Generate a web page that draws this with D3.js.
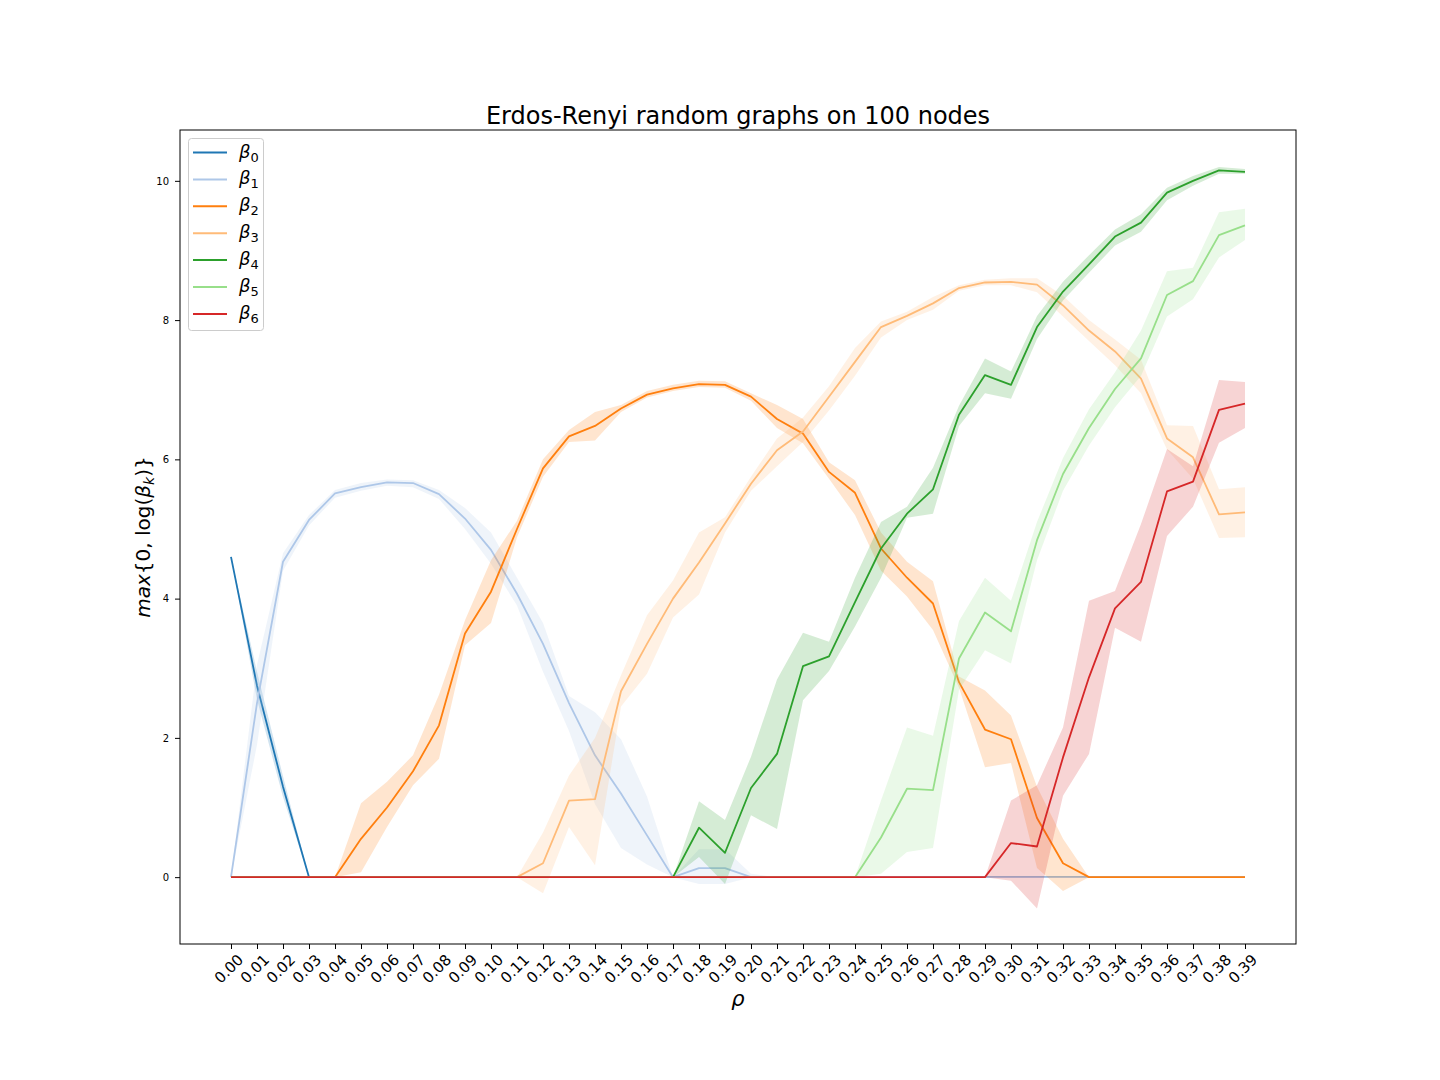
<!DOCTYPE html>
<html>
<head>
<meta charset="utf-8">
<script src="https://cdn.jsdelivr.net/npm/d3@7"></script>
<style>
  body { margin: 0; background: #fff; }
  svg { font-family: "DejaVu Sans", sans-serif; }
</style>
</head>
<body>
<svg id="chart" width="1440" height="1080"></svg>
<script>
let rho = ['0.00','0.01','0.02','0.03','0.04','0.05','0.06','0.07','0.08','0.09',
           '0.10','0.11','0.12','0.13','0.14','0.15','0.16','0.17','0.18','0.19',
           '0.20','0.21','0.22','0.23','0.24','0.25','0.26','0.27','0.28','0.29',
           '0.30','0.31','0.32','0.33','0.34','0.35','0.36','0.37','0.38','0.39']

let yTicks = [0, 2, 4, 6, 8, 10]

let beta0   = [4.6, 2.75, 1.3, 0, 0, 0, 0, 0, 0, 0, 0, 0, 0, 0, 0, 0, 0, 0, 0, 0, 0, 0, 0, 0, 0, 0, 0, 0, 0, 0, 0, 0, 0, 0, 0, 0, 0, 0, 0, 0]
let beta0Lo = [4.6, 2.55, 1.15, 0, 0, 0, 0, 0, 0, 0, 0, 0, 0, 0, 0, 0, 0, 0, 0, 0, 0, 0, 0, 0, 0, 0, 0, 0, 0, 0, 0, 0, 0, 0, 0, 0, 0, 0, 0, 0]
let beta0Hi = [4.6, 2.95, 1.45, 0, 0, 0, 0, 0, 0, 0, 0, 0, 0, 0, 0, 0, 0, 0, 0, 0, 0, 0, 0, 0, 0, 0, 0, 0, 0, 0, 0, 0, 0, 0, 0, 0, 0, 0, 0, 0]

let beta1   = [0, 2.5, 4.53, 5.13, 5.51, 5.6, 5.67, 5.66, 5.5, 5.15, 4.7, 4.07, 3.35, 2.5, 1.75, 1.2, 0.6, 0, 0.13, 0.13, 0, 0, 0, 0, 0, 0, 0, 0, 0, 0, 0, 0, 0, 0, 0, 0, 0, 0, 0, 0]
let beta1Lo = [0, 1.9, 4.4, 5.05, 5.45, 5.55, 5.62, 5.6, 5.43, 5.0, 4.5, 3.9, 2.95, 2.1, 1.05, 0.42, 0.18, 0, -0.1, -0.1, 0, 0, 0, 0, 0, 0, 0, 0, 0, 0, 0, 0, 0, 0, 0, 0, 0, 0, 0, 0]
let beta1Hi = [0, 3.05, 4.65, 5.2, 5.56, 5.66, 5.71, 5.7, 5.56, 5.3, 4.95, 4.3, 3.65, 2.6, 2.37, 1.98, 1.16, 0, 0.4, 0.4, 0.05, 0, 0, 0, 0, 0, 0, 0, 0, 0, 0, 0, 0, 0, 0, 0, 0, 0, 0, 0]

let beta2   = [0, 0, 0, 0, 0, 0.55, 1.0, 1.52, 2.18, 3.5, 4.1, 5.0, 5.87, 6.33, 6.48, 6.73, 6.93, 7.02, 7.08, 7.07, 6.9, 6.58, 6.37, 5.82, 5.52, 4.72, 4.3, 3.93, 2.8, 2.12, 1.98, 0.85, 0.2, 0, 0, 0, 0, 0, 0, 0]
let beta2Lo = [0, 0, 0, 0, 0, 0.07, 0.72, 1.32, 1.7, 3.33, 3.65, 4.88, 5.75, 6.25, 6.27, 6.68, 6.89, 6.98, 7.04, 7.03, 6.84, 6.45, 6.23, 5.72, 5.2, 4.4, 4.03, 3.55, 2.72, 1.58, 1.64, 0.13, -0.2, 0, 0, 0, 0, 0, 0, 0]
let beta2Hi = [0, 0, 0, 0, 0, 1.06, 1.37, 1.75, 2.62, 3.69, 4.55, 5.12, 6.0, 6.42, 6.68, 6.78, 6.98, 7.07, 7.13, 7.12, 6.95, 6.78, 6.58, 5.96, 5.7, 4.95, 4.53, 4.25, 2.88, 2.68, 2.32, 1.3, 0.55, 0, 0, 0, 0, 0, 0, 0]

let beta3   = [0, 0, 0, 0, 0, 0, 0, 0, 0, 0, 0, 0, 0.2, 1.1, 1.12, 2.67, 3.35, 4.0, 4.52, 5.08, 5.65, 6.13, 6.4, 6.9, 7.4, 7.9, 8.06, 8.24, 8.46, 8.54, 8.55, 8.51, 8.21, 7.85, 7.55, 7.16, 6.3, 6.03, 5.21, 5.24]
let beta3Lo = [0, 0, 0, 0, 0, 0, 0, 0, 0, 0, 0, 0, -0.23, 0.72, 0.17, 2.45, 2.92, 3.73, 4.06, 4.95, 5.55, 5.9, 6.25, 6.7, 7.2, 7.75, 8.0, 8.15, 8.42, 8.5, 8.5, 8.4, 8.05, 7.7, 7.35, 6.95, 6.14, 5.72, 4.87, 4.88]
let beta3Hi = [0, 0, 0, 0, 0, 0, 0, 0, 0, 0, 0, 0, 0.64, 1.46, 2.0, 2.9, 3.76, 4.26, 4.95, 5.17, 5.75, 6.3, 6.6, 7.05, 7.6, 7.98, 8.12, 8.33, 8.5, 8.58, 8.6, 8.6, 8.35, 8.0, 7.72, 7.43, 6.49, 6.48, 5.57, 5.6]

let beta4   = [0, 0, 0, 0, 0, 0, 0, 0, 0, 0, 0, 0, 0, 0, 0, 0, 0, 0, 0.71, 0.35, 1.28, 1.77, 3.03, 3.17, 3.95, 4.72, 5.22, 5.57, 6.64, 7.21, 7.07, 7.9, 8.41, 8.8, 9.2, 9.4, 9.83, 10.0, 10.15, 10.13]
let beta4Lo = [0, 0, 0, 0, 0, 0, 0, 0, 0, 0, 0, 0, 0, 0, 0, 0, 0, 0, 0.29, -0.1, 0.89, 0.69, 2.54, 2.96, 3.6, 4.3, 5.16, 5.22, 6.48, 6.95, 6.87, 7.73, 8.28, 8.68, 9.07, 9.27, 9.72, 9.93, 10.1, 10.1]
let beta4Hi = [0, 0, 0, 0, 0, 0, 0, 0, 0, 0, 0, 0, 0, 0, 0, 0, 0, 0, 1.09, 0.82, 1.73, 2.84, 3.51, 3.38, 4.3, 5.1, 5.32, 5.88, 6.77, 7.45, 7.26, 8.06, 8.55, 8.93, 9.3, 9.52, 9.9, 10.07, 10.2, 10.17]

let beta5   = [0, 0, 0, 0, 0, 0, 0, 0, 0, 0, 0, 0, 0, 0, 0, 0, 0, 0, 0, 0, 0, 0, 0, 0, 0, 0.57, 1.27, 1.25, 3.14, 3.8, 3.53, 4.84, 5.79, 6.45, 7.01, 7.45, 8.36, 8.56, 9.22, 9.36]
let beta5Lo = [0, 0, 0, 0, 0, 0, 0, 0, 0, 0, 0, 0, 0, 0, 0, 0, 0, 0, 0, 0, 0, 0, 0, 0, 0, 0.05, 0.36, 0.42, 2.69, 3.26, 3.07, 4.55, 5.55, 6.2, 6.75, 7.2, 8.05, 8.3, 8.9, 9.15]
let beta5Hi = [0, 0, 0, 0, 0, 0, 0, 0, 0, 0, 0, 0, 0, 0, 0, 0, 0, 0, 0, 0, 0, 0, 0, 0, 0, 1.1, 2.15, 2.03, 3.68, 4.3, 3.97, 5.1, 6.02, 6.72, 7.25, 7.85, 8.7, 8.75, 9.55, 9.6]

let beta6   = [0, 0, 0, 0, 0, 0, 0, 0, 0, 0, 0, 0, 0, 0, 0, 0, 0, 0, 0, 0, 0, 0, 0, 0, 0, 0, 0, 0, 0, 0, 0.49, 0.44, 1.72, 2.87, 3.86, 4.24, 5.54, 5.68, 6.71, 6.8]
let beta6Lo = [0, 0, 0, 0, 0, 0, 0, 0, 0, 0, 0, 0, 0, 0, 0, 0, 0, 0, 0, 0, 0, 0, 0, 0, 0, 0, 0, 0, 0, 0, -0.05, -0.45, 1.17, 1.77, 3.58, 3.38, 4.9, 5.32, 6.24, 6.45]
let beta6Hi = [0, 0, 0, 0, 0, 0, 0, 0, 0, 0, 0, 0, 0, 0, 0, 0, 0, 0, 0, 0, 0, 0, 0, 0, 0, 0, 0, 0, 0, 0, 1.1, 1.32, 2.15, 3.97, 4.11, 5.07, 6.15, 5.9, 7.14, 7.11]

let colors = ['#1f77b4', '#aec7e8', '#ff7f0e', '#ffbb78', '#2ca02c', '#98df8a', '#d62728']

let series = [
    { k: '0', mean: beta0, lo: beta0Lo, hi: beta0Hi },
    { k: '1', mean: beta1, lo: beta1Lo, hi: beta1Hi },
    { k: '2', mean: beta2, lo: beta2Lo, hi: beta2Hi },
    { k: '3', mean: beta3, lo: beta3Lo, hi: beta3Hi },
    { k: '4', mean: beta4, lo: beta4Lo, hi: beta4Hi },
    { k: '5', mean: beta5, lo: beta5Lo, hi: beta5Hi },
    { k: '6', mean: beta6, lo: beta6Lo, hi: beta6Hi }
]

let svg = d3.select('#chart')

let plotLeft = 180, plotRight = 1296, plotTop = 130, plotBottom = 944

let x = d3.scalePoint()
    .domain(rho)
    .range([231, 1245])

let y = d3.scaleLinear()
    .domain([-0.96, 10.73])
    .range([plotBottom, plotTop])

// title
svg.append('text')
    .attr('x', (plotLeft + plotRight) / 2)
    .attr('y', 124)
    .attr('text-anchor', 'middle')
    .attr('font-size', '24px')
    .text('Erdos-Renyi random graphs on 100 nodes')

let plot = svg.append('g')

let area = d3.area()
    .x((d, i) => x(rho[i]))
    .y0((d) => y(d[0]))
    .y1((d) => y(d[1]))

let line = d3.line()
    .x((d, i) => x(rho[i]))
    .y((d) => y(d))

series.forEach((s, si) => {
    let band = s.lo.map((v, i) => [v, s.hi[i]])
    plot.append('path')
        .attr('d', area(band))
        .attr('fill', colors[si])
        .attr('fill-opacity', 0.2)
        .attr('stroke', 'none')
    plot.append('path')
        .attr('d', line(s.mean))
        .attr('fill', 'none')
        .attr('stroke', colors[si])
        .attr('stroke-width', 1.8)
        .attr('stroke-linejoin', 'round')
})

// frame
svg.append('rect')
    .attr('x', plotLeft)
    .attr('y', plotTop)
    .attr('width', plotRight - plotLeft)
    .attr('height', plotBottom - plotTop)
    .attr('fill', 'none')
    .attr('stroke', '#000')
    .attr('stroke-width', 1)

// x axis
let xAxis = svg.append('g')
    .attr('transform', `translate(0,${plotBottom})`)
    .call(d3.axisBottom(x).tickSize(5).tickFormat(''))
xAxis.select('.domain').remove()

svg.append('g')
    .selectAll('text')
    .data(rho)
    .enter()
    .append('text')
    .attr('transform', (d) => `translate(${x(d) - 2},${969}) rotate(-45)`)
    .attr('text-anchor', 'middle')
    .attr('dominant-baseline', 'central')
    .attr('font-size', '15px')
    .text((d) => d)

// y axis
let yAxis = svg.append('g')
    .attr('transform', `translate(${plotLeft},0)`)
    .call(d3.axisLeft(y).tickValues(yTicks).tickSize(5).tickPadding(6))
yAxis.select('.domain').remove()
yAxis.selectAll('text')
    .attr('font-size', '10px')
    .attr('font-family', '"DejaVu Sans", sans-serif')
    .attr('fill', '#000')

// axis labels
svg.append('text')
    .attr('x', 738)
    .attr('y', 1006)
    .attr('text-anchor', 'middle')
    .attr('font-size', '21px')
    .attr('font-style', 'italic')
    .text('ρ')

let yLabel = svg.append('text')
    .attr('transform', 'translate(150,537) rotate(-90)')
    .attr('text-anchor', 'middle')
    .attr('font-size', '20px')
yLabel.append('tspan').attr('font-style', 'italic').text('max')
yLabel.append('tspan').text('{0, log(')
yLabel.append('tspan').attr('font-style', 'italic').text('β')
yLabel.append('tspan').attr('font-style', 'italic').attr('font-size', '14px').attr('dy', 4).text('k')
yLabel.append('tspan').attr('dy', -4).text(')}')

// legend
let legend = svg.append('g')

legend.append('rect')
    .attr('x', 188.5)
    .attr('y', 138.5)
    .attr('width', 75)
    .attr('height', 192)
    .attr('rx', 3)
    .attr('fill', '#fff')
    .attr('fill-opacity', 0.8)
    .attr('stroke', '#cccccc')

series.forEach((s, si) => {
    let ly = 152.5 + si * 26.9
    legend.append('line')
        .attr('x1', 193)
        .attr('x2', 227)
        .attr('y1', ly)
        .attr('y2', ly)
        .attr('stroke', colors[si])
        .attr('stroke-width', 2)
    let t = legend.append('text')
        .attr('x', 239)
        .attr('y', ly + 5)
        .attr('font-size', '18px')
    t.append('tspan').attr('font-style', 'italic').text('β')
    t.append('tspan').attr('font-size', '13px').attr('dy', 4).text(s.k)
})
</script>
</body>
</html>
